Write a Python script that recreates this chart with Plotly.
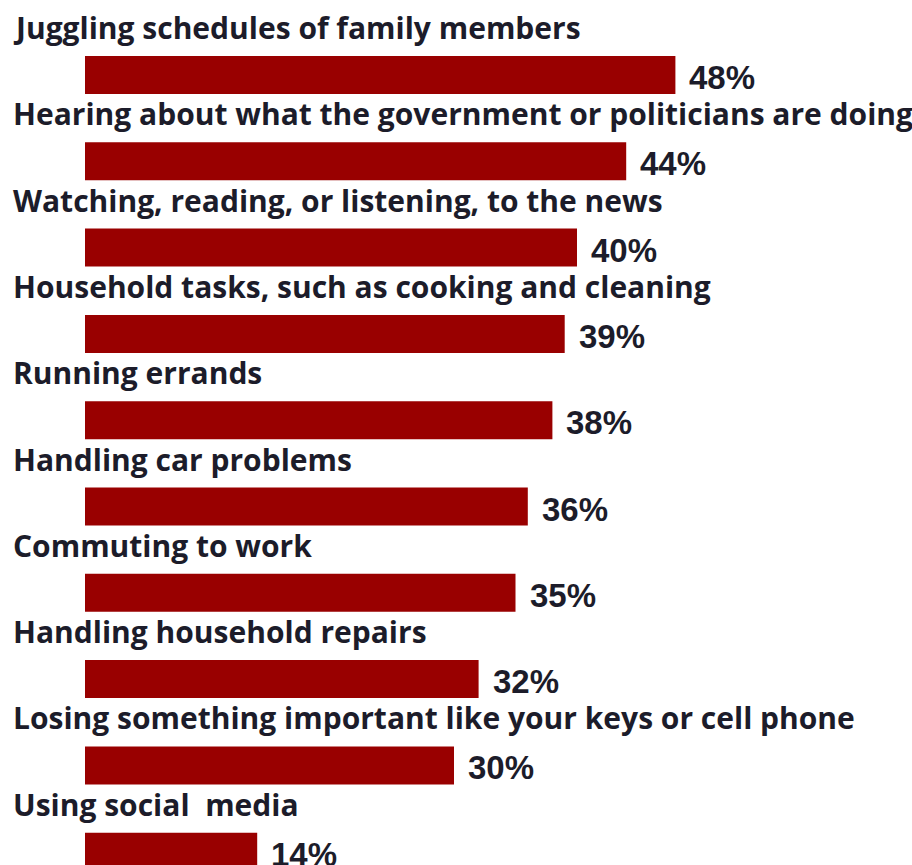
import plotly.graph_objects as go

categories = [
    "Juggling schedules of family members",
    "Hearing about what the government or politicians are doing",
    "Watching, reading, or listening, to the news",
    "Household tasks, such as cooking and cleaning",
    "Running errands",
    "Handling car problems",
    "Commuting to work",
    "Handling household repairs",
    "Losing something important like your keys or cell phone",
    "Using social  media",
]
values = [48, 44, 40, 39, 38, 36, 35, 32, 30, 14]
value_labels = [f"{v}%" for v in values]

W, H = 912, 865
x0_px = 85          # pixel position of the zero line
px_per_unit = 12.3  # horizontal pixels per percentage point
row_px = 86.3       # vertical pitch between rows
first_center_px = 75

positions = list(range(len(categories)))

fig = go.Figure(
    go.Bar(
        x=values,
        y=positions,
        orientation="h",
        marker=dict(color="#990000", line=dict(width=0)),
        width=0.44,
        hoverinfo="skip",
    )
)

label_font = dict(family="Open Sans", size=30, color="#1c1c2a")
value_font = dict(family="Liberation Sans", size=33, color="#1c1c2a")

for i, (cat, v, lab) in enumerate(zip(categories, values, value_labels)):
    fig.add_annotation(
        x=11 / W, xref="paper", y=i - 0.55, yref="y",
        text=f"<b>{cat}</b>", showarrow=False,
        xanchor="left", yanchor="middle", font=label_font,
    )
    fig.add_annotation(
        x=v, xref="x", y=i + 0.03, yref="y",
        text=f"<b>{lab}</b>", showarrow=False,
        xanchor="left", yanchor="middle", xshift=12, font=value_font,
    )

fig.update_layout(
    width=W, height=H,
    margin=dict(l=0, r=0, t=0, b=0),
    paper_bgcolor="white", plot_bgcolor="white",
    showlegend=False,
    xaxis=dict(
        range=[-x0_px / px_per_unit, (W - x0_px) / px_per_unit],
        visible=False, fixedrange=True,
    ),
    yaxis=dict(
        range=[(H - first_center_px) / row_px, -first_center_px / row_px],
        visible=False, fixedrange=True,
    ),
)

fig.write_html("out.html")
